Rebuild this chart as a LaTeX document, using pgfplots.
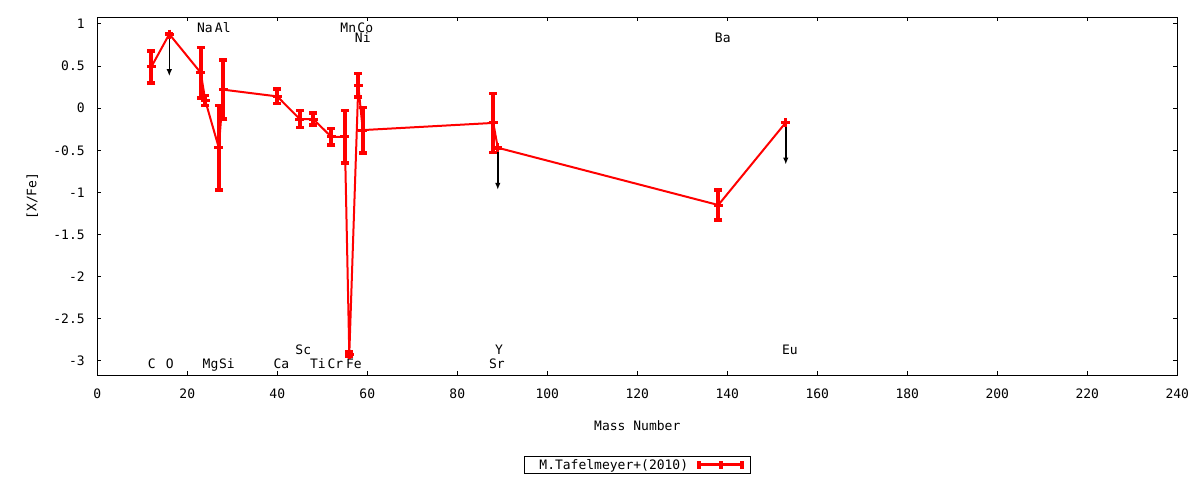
\documentclass[border=0pt]{standalone}
\usepackage{fontspec}
\setmainfont{DejaVu Sans Mono}
\usepackage{pgfplots}
\usepackage{pgfplotstable}
\pgfplotsset{compat=1.18}
\usetikzlibrary{arrows.meta}
\newcommand{\myfont}{\fontsize{13bp}{15bp}\selectfont}

\pgfplotstableread{
x y e
12 0.49 0.19
16 0.88 0
23 0.42 0.30
24 0.09 0.06
27 -0.47 0.50
28 0.22 0.35
40 0.14 0.085
45 -0.13 0.10
48 -0.13 0.07
52 -0.34 0.10
55 -0.34 0.31
56 -2.92 0.03
58 0.27 0.14
59 -0.26 0.27
88 -0.175 0.35
89 -0.47 0
138 -1.15 0.18
153 -0.17 0
}\tafel

\pgfplotstableread{
x y
16 0.88
89 -0.47
153 -0.17
}\ulimits

\begin{document}
\begin{tikzpicture}
\useasboundingbox (0,0) rectangle (1200bp,480bp);
\begin{axis}[
 at={(97.3bp,105bp)}, anchor=south west,
 scale only axis, width=1080bp, height=357.7bp,
 xmin=0, xmax=240, ymin=-3.169, ymax=1.0796,
 xtick={0,20,...,240},
 ytick={-3,-2.5,-2,-1.5,-1,-0.5,0,0.5,1},
 /pgf/number format/assume math mode=true,
 tick align=inside, major tick length=4bp,
 axis line style={line width=1bp},
 tick style={line width=1bp, black},
 tick label style={font=\myfont},
 xticklabel style={anchor=base, inner sep=0pt, yshift=-23.3bp},
 yticklabel style={anchor=east, inner sep=0pt, xshift=-12.4bp},
 xlabel={Mass Number},
 ylabel={[X/Fe]},
 label style={font=\myfont},
 xlabel style={at={(axis description cs:0.5,0)}, anchor=base, inner sep=0pt, yshift=-55bp},
 ylabel style={at={(axis description cs:0,0.5)}, anchor=center, inner sep=0pt, yshift=65bp},
 legend plot pos=right,
 legend style={at={(0.5,-0.2514)}, anchor=center, draw=black, line width=1bp,
   font=\myfont, inner sep=0bp, nodes={inner xsep=0bp, inner ysep=3bp}},
 legend image code/.code={
   \draw[red, line width=3bp] (10bp,0bp) -- (53bp,0bp);
   \draw[red, line width=4bp] (10bp,-4bp) -- (10bp,4bp) (31.5bp,-4bp) -- (31.5bp,4bp) (53bp,-4bp) -- (53bp,4bp);
   \path (0bp,0bp) (60bp,0bp);
 },
]
\addplot[red, line width=2bp, mark=+, mark size=4.5bp,
  mark options={line width=3bp},
  error bars/.cd, y dir=both, y explicit,
  error bar style={line width=4bp},
  error mark=-,
  error mark options={rotate=90, mark size=4bp, line width=3.5bp}]
  table[x=x, y=y, y error=e] {\tafel};
\addlegendentry{\hspace*{15bp}M.Tafelmeyer+(2010)}
\addplot[black, line width=1.5bp, -{Latex[length=7bp,width=5.5bp]},
  quiver={u=0, v=-0.5}, forget plot] table[x=x, y=y] {\ulimits};

\begin{scope}[every node/.style={font=\myfont, inner sep=0pt, anchor=base}]
\node at (axis cs:23.93,0.897) {Na};
\node at (axis cs:27.89,0.897) {Al};
\node at (axis cs:55.78,0.897) {Mn};
\node at (axis cs:59.56,0.897) {Co};
\node at (axis cs:59.0,0.783) {Ni};
\node at (axis cs:139.0,0.783) {Ba};
\node at (axis cs:12.09,-3.093) {C};
\node at (axis cs:16.09,-3.093) {O};
\node at (axis cs:25.16,-3.093) {Mg};
\node at (axis cs:28.82,-3.093) {Si};
\node at (axis cs:40.93,-3.093) {Ca};
\node at (axis cs:49.04,-3.093) {Ti};
\node at (axis cs:52.93,-3.093) {Cr};
\node at (axis cs:57.04,-3.093) {Fe};
\node at (axis cs:88.82,-3.093) {Sr};
\node at (axis cs:45.78,-2.926) {Sc};
\node at (axis cs:89.27,-2.926) {Y};
\node at (axis cs:153.9,-2.926) {Eu};
\end{scope}
\end{axis}
\end{tikzpicture}
\end{document}
